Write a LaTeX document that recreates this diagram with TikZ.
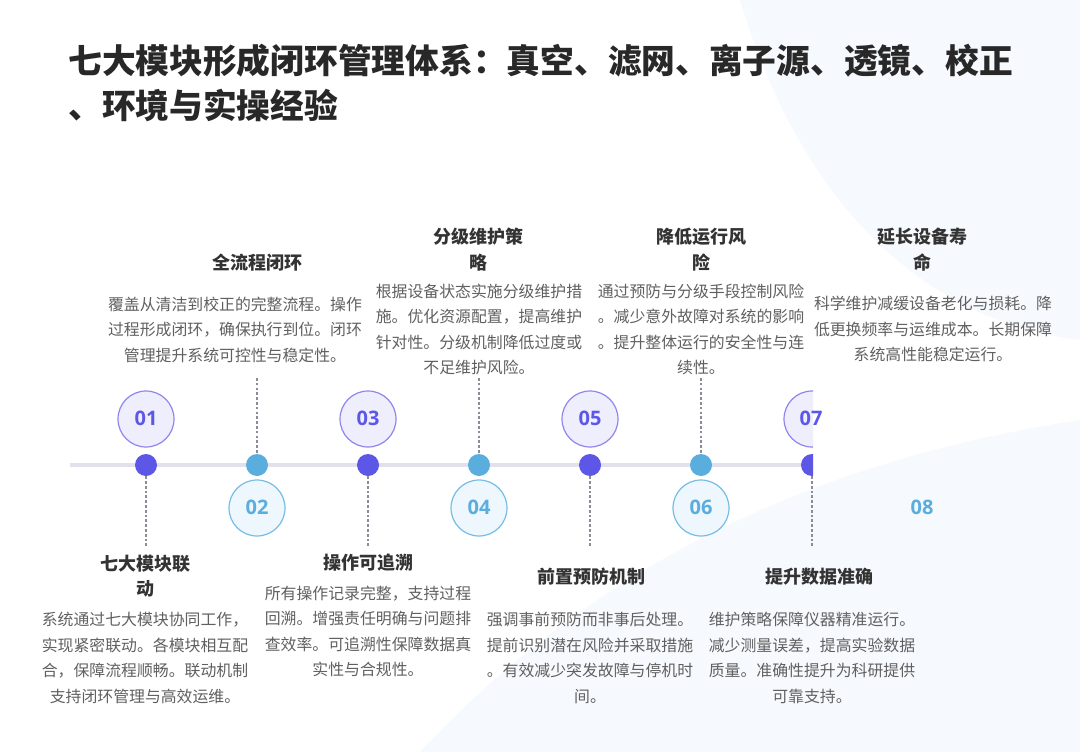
\documentclass[tikz,border=0pt]{standalone}
\usepackage{fontspec}
\setmainfont{Noto Sans CJK SC}
\newfontfamily\numfont{Open Sans}
\usetikzlibrary{positioning}
\definecolor{StepPurple}{RGB}{93,87,232}
\definecolor{StepBlue}{RGB}{90,174,221}
\definecolor{RingPurple}{RGB}{143,134,236}
\definecolor{RingBlue}{RGB}{117,189,229}
\definecolor{FillPurple}{RGB}{239,238,253}
\definecolor{FillBlue}{RGB}{238,247,253}
\definecolor{axisgrey}{RGB}{226,224,236}
\definecolor{ink}{RGB}{40,40,40}
\definecolor{headink}{RGB}{51,51,51}
\definecolor{soft}{RGB}{96,96,96}
\definecolor{leadgrey}{RGB}{140,140,150}
\definecolor{tint}{RGB}{246,249,253}

\tikzset{
  title/.style={font=\bfseries\fontsize{25.3pt}{33.8pt}\selectfont,text=ink,align=left,inner sep=0pt},
  head/.style={font=\bfseries\fontsize{13.5pt}{19pt}\selectfont,text=headink,align=center,inner sep=0pt},
  body/.style={font=\fontsize{11.9pt}{19.1pt}\selectfont,text=soft,align=center,inner sep=0pt},
  dotP/.style={circle,fill=StepPurple,inner sep=0pt,minimum size=16.5pt},
  dotB/.style={circle,fill=StepBlue,inner sep=0pt,minimum size=16.5pt},
  ringP/.style={circle,draw=RingPurple,fill=FillPurple,line width=0.9pt,inner sep=0pt,minimum size=42pt},
  ringB/.style={circle,draw=RingBlue,fill=FillBlue,line width=0.9pt,inner sep=0pt,minimum size=42pt},
  numP/.style={text=StepPurple,font=\numfont\bfseries\fontsize{15pt}{15pt}\selectfont,inner sep=0pt},
  numB/.style={text=StepBlue,font=\numfont\bfseries\fontsize{15pt}{15pt}\selectfont,inner sep=0pt},
  leader/.style={leadgrey,line width=1.2pt,dash pattern=on 2pt off 1.6pt},
  axisline/.style={axisgrey,line width=3pt}
}

\begin{document}
\begin{tikzpicture}[x=0.75pt,y=-0.75pt]
  \useasboundingbox (0,0) rectangle (1080,752);
  % faint background swooshes
  \fill[white] (0,0) rectangle (1080,752);
  \fill[tint] (420,752) .. controls (600,560) and (820,460) .. (1080,420)
     -- (1080,752) -- cycle;
  \fill[tint] (740,0) .. controls (800,200) and (920,320) .. (1080,340)
     -- (1080,0) -- cycle;

  % title
  \node[title,anchor=north west] (title) at (68,44)
    {七大模块形成闭环管理体系：真空、滤网、离子源、透镜、校正\\、环境与实操经验};

  % timeline, cut off after the seventh step
  \begin{scope}
    \clip (0,0) rectangle (813,752);
    \coordinate (start) at (70,465);
    \coordinate (stop) at (813,465);
    \draw[axisline] (start) -- (stop);
    \foreach \i/\x in {1/146,3/368,5/590,7/812}{
      \node[dotP] (dot\i) at (\x,465) {};
      \node[ringP] (ring\i) at (\x,419) {};
    }
    \foreach \i/\x in {2/257,4/479,6/701}{
      \node[dotB] (dot\i) at (\x,465) {};
      \node[ringB] (ring\i) at (\x,508) {};
    }
  \end{scope}
  \foreach \i/\x in {1/146,3/368,5/590,7/811}
    \node[numP] (num\i) at (\x,418) {0\i};
  \foreach \i/\x in {2/257,4/479,6/701,8/922}
    \node[numB] (num\i) at (\x,507) {0\i};

  % leaders
  \foreach \i/\x in {2/257,4/479,6/701}{
    \coordinate (top\i) at (\x,378);
    \draw[leader] (top\i) -- (dot\i);
  }
  \foreach \i/\x in {1/146,3/368,5/590,7/812}{
    \coordinate (low\i) at (\x,548);
    \draw[leader] (dot\i) -- (low\i);
  }

  % upper texts
  \node[head] (head2) at (257,263) {全流程闭环};
  \node[body] (text2) at (235,329.5) {覆盖从清洁到校正的完整流程。操作\\过程形成闭环，确保执行到位。闭环\\管理提升系统可控性与稳定性。};
  \node[head] (head4) at (478,249.5) {分级维护策\\略};
  \node[body] (text4) at (479,329.5) {根据设备状态实施分级维护措\\施。优化资源配置，提高维护\\针对性。分级机制降低过度或\\不足维护风险。};
  \node[head] (head6) at (701,249.5) {降低运行风\\险};
  \node[body] (text6) at (701,329.5) {通过预防与分级手段控制风险\\。减少意外故障对系统的影响\\。提升整体运行的安全性与连\\续性。};
  \node[head] (head8) at (922,249.5) {延长设备寿\\命};
  \node[body] (text8) at (933,329) {科学维护减缓设备老化与损耗。降\\低更换频率与运维成本。长期保障\\系统高性能稳定运行。};

  % lower texts
  \node[head] (head1) at (145,576) {七大模块联\\动};
  \node[body] (text1) at (145,658) {系统通过七大模块协同工作，\\实现紧密联动。各模块相互配\\合，保障流程顺畅。联动机制\\支持闭环管理与高效运维。};
  \node[head] (head3) at (368,563) {操作可追溯};
  \node[body] (text3) at (368,631.5) {所有操作记录完整，支持过程\\回溯。增强责任明确与问题排\\查效率。可追溯性保障数据真\\实性与合规性。};
  \node[head] (head5) at (591,577) {前置预防机制};
  \node[body] (text5) at (590,658) {强调事前预防而非事后处理。\\提前识别潜在风险并采取措施\\。有效减少突发故障与停机时\\间。};
  \node[head] (head7) at (819,577) {提升数据准确};
  \node[body] (text7) at (812,658) {维护策略保障仪器精准运行。\\减少测量误差，提高实验数据\\质量。准确性提升为科研提供\\可靠支持。};
\end{tikzpicture}
\end{document}
